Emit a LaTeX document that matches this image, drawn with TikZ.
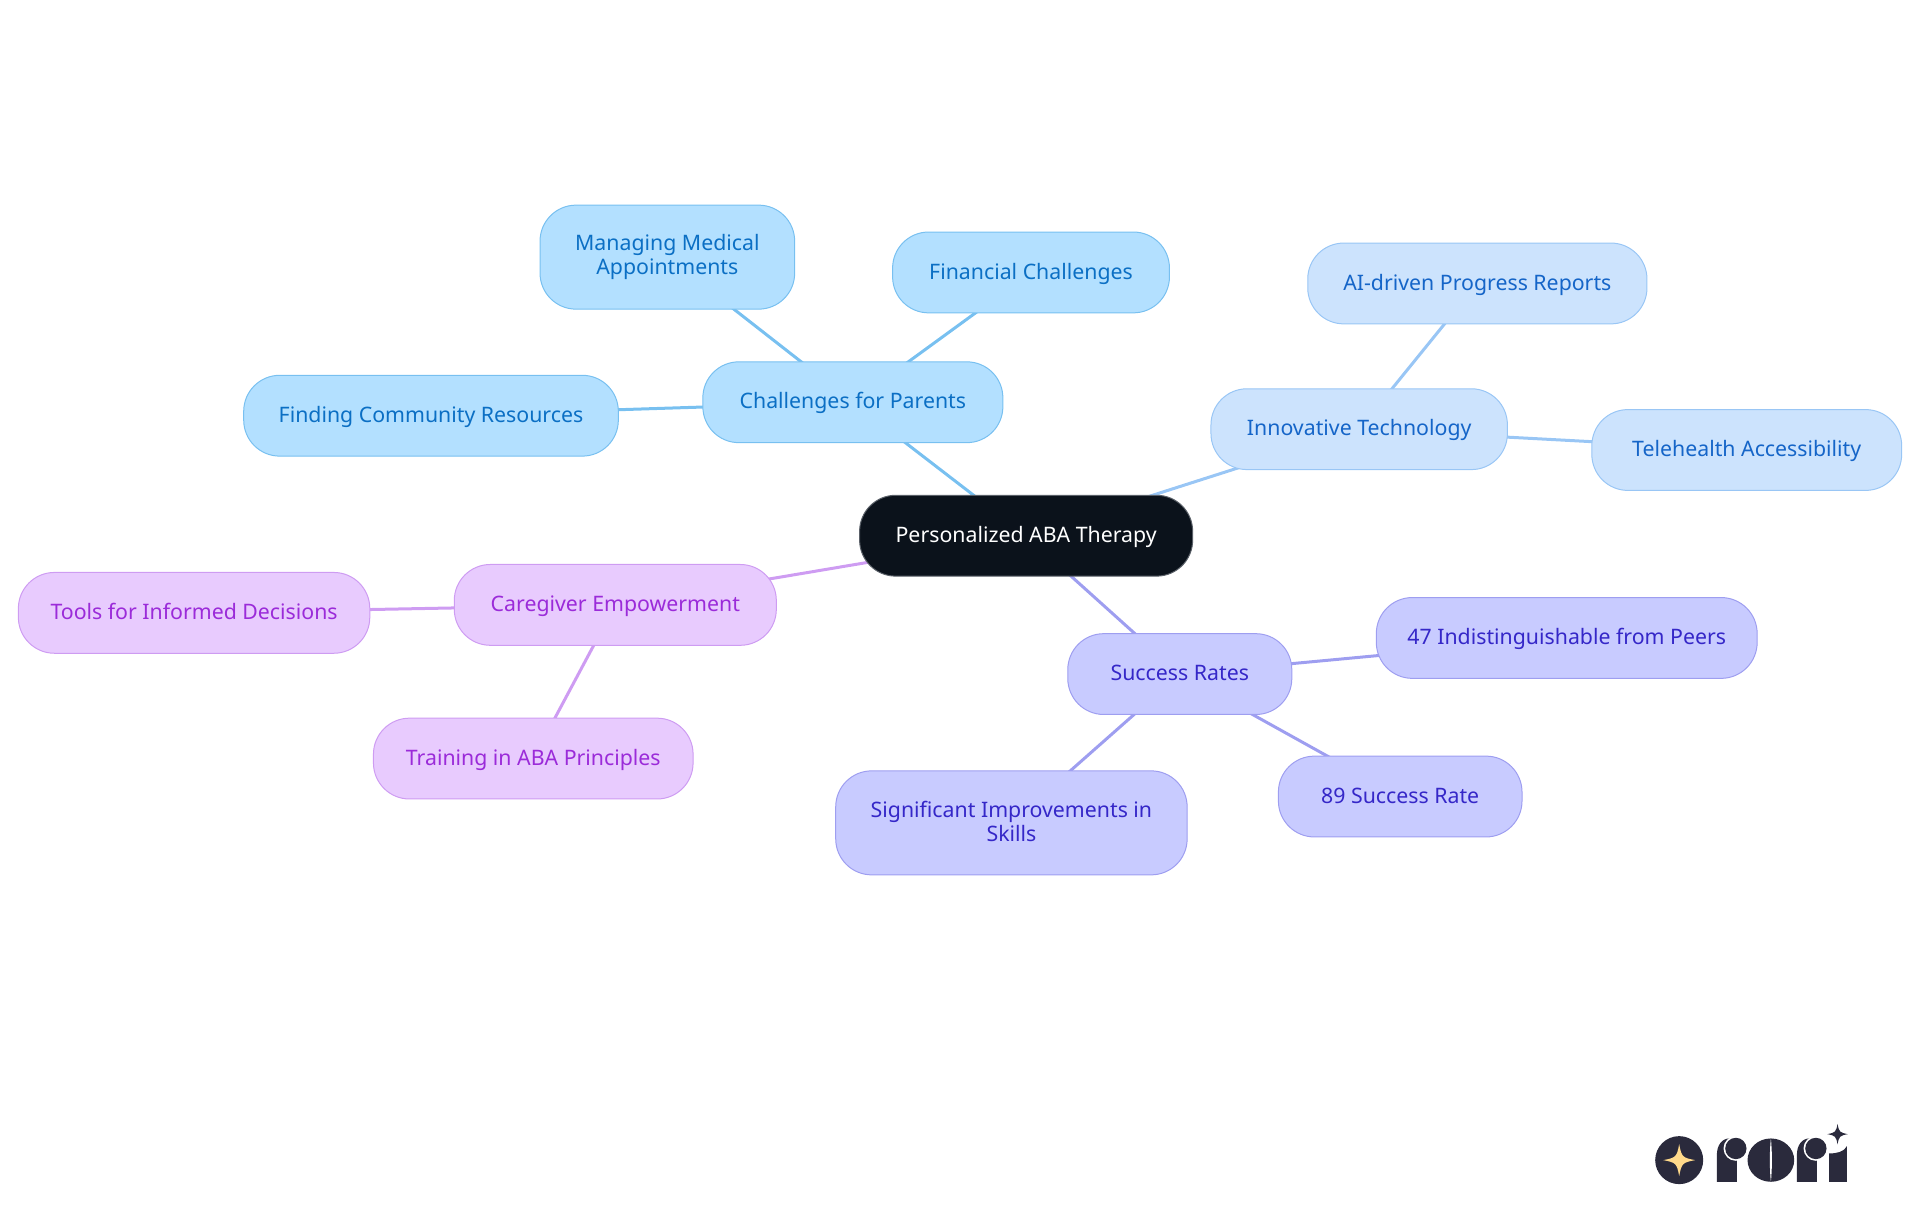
\documentclass[tikz,border=0pt]{standalone}
\usepackage{fontspec}
\setmainfont{Noto Sans}
\usetikzlibrary{backgrounds}
\definecolor{rootfill}{HTML}{0B121B}
\definecolor{rootline}{HTML}{5A6068}
\definecolor{chalfill}{HTML}{B3E0FF}
\definecolor{challine}{HTML}{78C0F0}
\definecolor{chaltext}{HTML}{0B6FC4}
\definecolor{techfill}{HTML}{CCE3FD}
\definecolor{techline}{HTML}{99C6F5}
\definecolor{techtext}{HTML}{1565C8}
\definecolor{succfill}{HTML}{C8CBFF}
\definecolor{succline}{HTML}{9E9EF0}
\definecolor{succtext}{HTML}{3527C8}
\definecolor{carefill}{HTML}{E8CBFE}
\definecolor{careline}{HTML}{CE9CF2}
\definecolor{caretext}{HTML}{9B2BD9}
\definecolor{logodark}{HTML}{2A2A3C}
\definecolor{logostar}{HTML}{FFD98A}
\tikzset{
  topic/.style={draw,rounded corners=18pt,inner sep=0pt,align=center,line width=0.5pt,
    font=\fontsize{10.65}{12}\selectfont,minimum height=40.4pt,text height=8pt,text depth=1.3pt},
  double/.style={text height=,text depth=,minimum height=52pt},
  rootnode/.style={topic,fill=rootfill,draw=rootline,text=white},
  chal/.style={topic,fill=chalfill,draw=challine,text=chaltext},
  tech/.style={topic,fill=techfill,draw=techline,text=techtext},
  succ/.style={topic,fill=succfill,draw=succline,text=succtext},
  care/.style={topic,fill=carefill,draw=careline,text=caretext},
  link/.style={line width=1.5pt}
}
\newcommand{\linestrut}{\rule[-1.6pt]{0pt}{9.6pt}}
\newcommand{\starpath}[3]{% centre x, centre y, radius
  ({#1-#3},#2) .. controls ({#1-0.2*#3},{#2-0.15*#3}) and ({#1-0.15*#3},{#2-0.2*#3}) .. (#1,{#2-#3})
  .. controls ({#1+0.15*#3},{#2-0.2*#3}) and ({#1+0.2*#3},{#2-0.15*#3}) .. ({#1+#3},#2)
  .. controls ({#1+0.2*#3},{#2+0.15*#3}) and ({#1+0.15*#3},{#2+0.2*#3}) .. (#1,{#2+#3})
  .. controls ({#1-0.15*#3},{#2+0.2*#3}) and ({#1-0.2*#3},{#2+0.15*#3}) .. ({#1-#3},#2) -- cycle}
\begin{document}
\begin{tikzpicture}[x=0.6122pt,y=-0.6122pt]
\useasboundingbox (0,0) rectangle (1568,992.2);

\node[rootnode,minimum width=166.5pt] (root) at (838,437.5) {Personalized ABA Therapy};

\node[chal,minimum width=150pt] (parents) at (696.5,328.5) {Challenges for Parents};
\node[chal,double,minimum width=127.3pt] (medical) at (545,210) {\linestrut Managing Medical\\\linestrut Appointments};
\node[chal,minimum width=138.4pt] (financial) at (842,222.5) {Financial Challenges};
\node[chal,minimum width=187.3pt] (community) at (352,339.5) {Finding Community Resources};

\node[tech,minimum width=148.2pt] (innovative) at (1110,350.5) {Innovative Technology};
\node[tech,minimum width=169.6pt] (reports) at (1206.5,231.5) {AI-driven Progress Reports};
\node[tech,minimum width=154.9pt] (telehealth) at (1426.5,367.5) {Telehealth Accessibility};

\node[care,minimum width=161pt] (caregiver) at (502.5,494) {Caregiver Empowerment};
\node[care,minimum width=175.7pt] (tools) at (158.5,500.5) {Tools for Informed Decisions};
\node[care,minimum width=159.8pt] (training) at (435.5,619.5) {Training in ABA Principles};

\node[succ,minimum width=112pt] (success) at (963.5,550.5) {Success Rates};
\node[succ,minimum width=190.4pt] (peers) at (1279.5,521) {47 Indistinguishable from Peers};
\node[succ,minimum width=121.8pt] (rate) at (1143.5,650.5) {89 Success Rate};
\node[succ,double,minimum width=175.7pt] (skills) at (826,672) {\linestrut Significant Improvements in\\\linestrut Skills};

\begin{scope}[on background layer]
\draw[link,challine] (root.center) -- (parents.center);
\draw[link,challine] (parents.center) -- (medical.center);
\draw[link,challine] (parents.center) -- (financial.center);
\draw[link,challine] (parents.center) -- (community.center);
\draw[link,techline] (root.center) -- (innovative.center);
\draw[link,techline] (innovative.center) -- (reports.center);
\draw[link,techline] (innovative.center) -- (telehealth.center);
\draw[link,careline] (root.center) -- (caregiver.center);
\draw[link,careline] (caregiver.center) -- (tools.center);
\draw[link,careline] (caregiver.center) -- (training.center);
\draw[link,succline] (root.center) -- (success.center);
\draw[link,succline] (success.center) -- (peers.center);
\draw[link,succline] (success.center) -- (rate.center);
\draw[link,succline] (success.center) -- (skills.center);
\end{scope}

% logo
\begin{scope}[x=0.16667pt,y=-0.16667pt,shift={(4860,3300)}]
\fill[logodark] (177,180) circle (72);
\fill[logostar] \starpath{177}{180}{48};
\fill[logodark] (290,245) -- (290,165) .. controls (290,135) and (305,115) .. (328,115) -- (350,115) -- (350,245) -- cycle;
\fill[white] (347,145) circle (37);
\fill[logodark] (347,145) circle (32);
\fill[logodark] (452,180) ellipse (70 and 65);
\fill[white] (452,115) .. controls (448,150) and (448,210) .. (452,245) .. controls (456,210) and (456,150) .. (452,115) -- cycle;
\fill[logodark] (530,245) -- (530,165) .. controls (530,135) and (545,115) .. (568,115) -- (590,115) -- (590,245) -- cycle;
\fill[white] (587,145) circle (37);
\fill[logodark] (587,145) circle (32);
\fill[logodark] (627,245) -- (627,160) .. controls (650,160) and (672,155) .. (680,138) -- (680,245) -- cycle;
\fill[logodark] \starpath{652}{102}{31};
\end{scope}
\end{tikzpicture}
\end{document}
